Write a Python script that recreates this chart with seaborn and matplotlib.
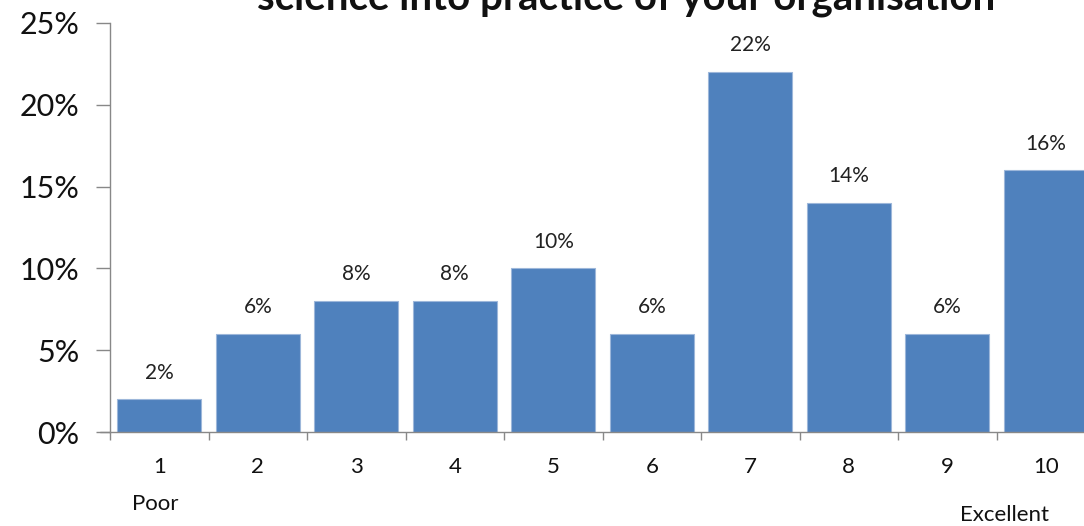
import pandas as pd
import numpy as np
import matplotlib
matplotlib.use("Agg")
import matplotlib.pyplot as plt
import seaborn as sns
from matplotlib.ticker import FuncFormatter

sns.set_style("white")
plt.rcParams['font.family'] = ['Lato', 'DejaVu Sans']

# %%
scores = ["1", "2", "3", "4", "5", "6", "7", "8", "9", "10"]
share = [2, 6, 8, 8, 10, 6, 22, 14, 6, 16]
title = "science into practice of your organisation"

df = pd.DataFrame({"score": scores, "share": share})

# %%
fig = plt.figure(figsize=(10.84, 5.26), dpi=100)
ax = fig.add_axes([0.1015, 0.1787, 0.9087, 0.7776])

sns.barplot(data=df, x="score", y="share", color="#4F81BD", saturation=1,
            width=0.85, edgecolor="#9DB7DA", linewidth=0.8, ax=ax)

for c in ax.containers:
    ax.bar_label(c, labels=[f"{v}%" for v in df["share"]], padding=12,
                 fontsize=15, color="#222222")

ax.set_ylim(0, 25)
ax.set_xlim(-0.5, 9.5)
ax.set_yticks(np.arange(0, 26, 5))
ax.yaxis.set_major_formatter(FuncFormatter(lambda v, p: f"{v:.0f}%"))
ax.tick_params(axis="y", labelsize=22, length=10, width=1, color="#888888",
               left=True, pad=12, labelcolor="#111111")
ax.set_xticks(np.arange(-0.5, 10, 1), minor=True)
ax.tick_params(axis="x", which="major", length=0, labelsize=16, pad=18,
               labelcolor="#111111")
ax.tick_params(axis="x", which="minor", length=6, width=1, color="#888888",
               bottom=True)
ax.set_xlabel("")
ax.set_ylabel("")

for s in ["top", "right"]:
    ax.spines[s].set_visible(False)
for s in ["left", "bottom"]:
    ax.spines[s].set_color("#888888")
    ax.spines[s].set_linewidth(1)

# bottom line runs past the y axis a little, like the original
ax.plot([-0.6, -0.5], [0, 0], color="#888888", lw=1, clip_on=False)

fig.text(0.143, 0.03, "Poor", fontsize=16, ha="center", color="#111111")
fig.text(0.927, 0.01, "Excellent", fontsize=16, ha="center", color="#111111")
fig.text(0.578, 0.982, title, fontsize=29, fontweight="bold", ha="center",
         va="baseline", color="#111111")

fig.savefig("out.png", dpi=100)
